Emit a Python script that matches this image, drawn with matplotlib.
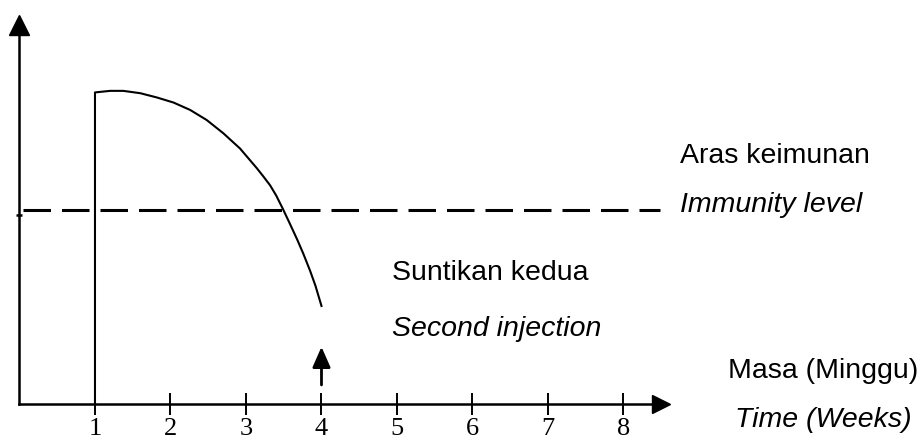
import matplotlib
matplotlib.use('Agg')
import matplotlib.pyplot as plt

# antibody level after the first injection (weeks, level)
weeks = [1.00, 1.00, 1.20, 1.375, 1.60, 1.82, 2.04, 2.26, 2.48, 2.70, 2.92,
         3.14, 3.23, 3.32, 3.40, 3.49, 3.58, 3.68, 3.76, 3.85, 3.92, 4.00]
level = [0.00, 8.01, 8.05, 8.05, 7.99, 7.88, 7.75, 7.56, 7.30, 6.96, 6.57,
         6.07, 5.85, 5.62, 5.36, 5.01, 4.64, 4.22, 3.86, 3.42, 3.04, 2.52]

immunity_level = 5.0
second_injection_week = 4
week_ticks = [1, 2, 3, 4, 5, 6, 7, 8]
week_labels = ['1', '2', '3', '4', '5', '6', '7', '8']
y_mark = 4.86

fig = plt.figure(figsize=(9.24, 4.42), dpi=100)
ax = fig.add_axes([0, 0, 1, 1])
ax.set_xlim(-0.258, 11.98)
ax.set_ylim(-0.977, 10.386)
ax.patch.set_alpha(0)

# axes drawn as arrows through the origin
for s in ['top', 'right']:
    ax.spines[s].set_visible(False)
ax.spines['left'].set_position(('data', 0))
ax.spines['bottom'].set_position(('data', 0))
ax.spines['left'].set_bounds(0, 9.6)
ax.spines['bottom'].set_bounds(0, 8.45)
ax.spines['left'].set_linewidth(1.8)
ax.spines['bottom'].set_linewidth(1.8)
ax.plot(8.5, 0, marker='>', color='black', markersize=13, clip_on=False)
ax.plot(0, 9.75, marker='^', color='black', markersize=14, clip_on=False)

ax.set_xticks(week_ticks)
ax.set_xticklabels(week_labels, family='Liberation Serif', fontsize=19)
ax.tick_params(axis='x', direction='inout', length=16, width=1.4, pad=2)
ax.set_yticks([y_mark])
ax.set_yticklabels([''])
ax.tick_params(axis='y', direction='inout', length=4, width=1.8)

ax.plot(weeks, level, color='black', linewidth=1.5)
ax.plot([0.05, 8.48], [immunity_level, immunity_level], color='black',
        linewidth=2.2, dashes=(9, 3.6))

ax.annotate('', xy=(second_injection_week, 1.47),
            xytext=(second_injection_week, 0.49),
            arrowprops=dict(arrowstyle='-|>,head_length=0.5,head_width=0.22',
                            color='black', lw=2, mutation_scale=25,
                            shrinkA=0, shrinkB=0))

txt = dict(family='Liberation Sans', fontsize=20.5, color='black')
ax.text(8.75, 6.2, 'Aras keimunan', **txt)
ax.text(8.75, 4.94, 'Immunity level', style='italic', **txt)
ax.text(4.93, 3.18, 'Suntikan kedua', **txt)
ax.text(4.93, 1.76, 'Second injection', style='italic', **txt)
ax.text(9.38, 0.67, 'Masa (Minggu)', **txt)
ax.text(9.48, -0.59, 'Time (Weeks)', style='italic', **txt)

fig.savefig('out.png', dpi=100)
